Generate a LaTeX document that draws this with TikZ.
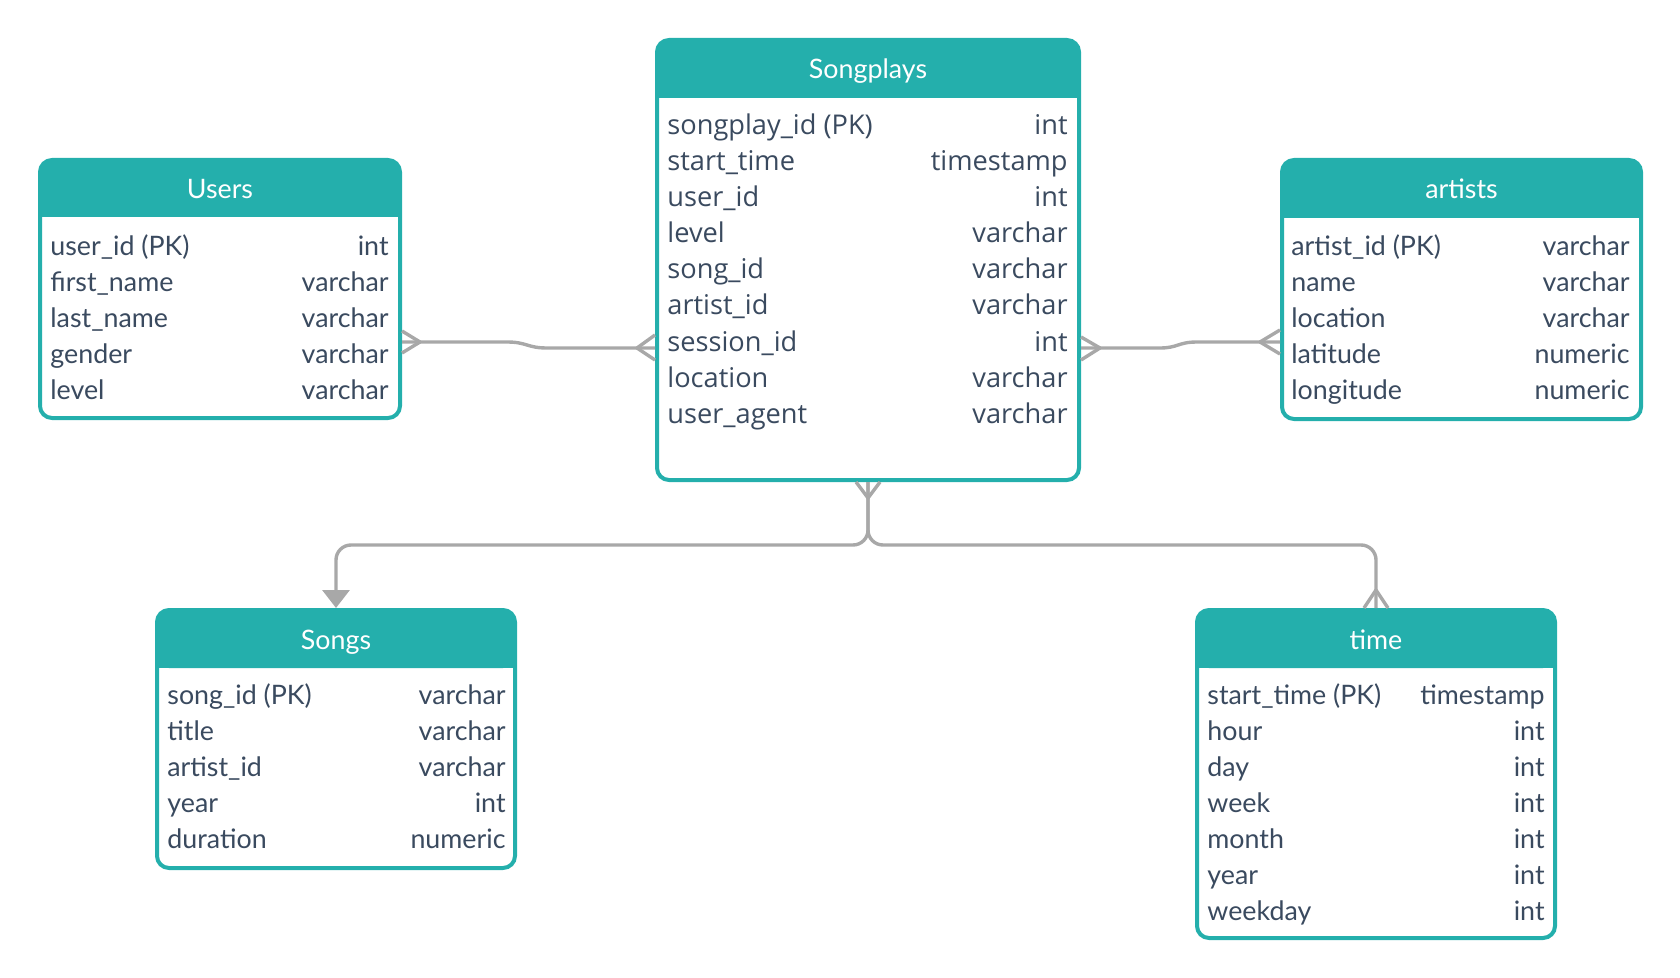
\documentclass[tikz,border=0pt]{standalone}
\usepackage{fontspec}
\setmainfont{Lato}
\newfontfamily\osans{Open Sans}
\usetikzlibrary{arrows.meta}
\definecolor{tealc}{HTML}{24AFAC}
\definecolor{linec}{HTML}{A8A8A8}
\definecolor{txtc}{HTML}{3A4A5F}
\tikzset{
  tblframe/.style={draw=tealc, line width=2pt, fill=white, rounded corners=6pt, inner sep=0pt, outer sep=1pt},
  hdrtxt/.style={text=white, inner sep=0pt, font=\fontsize{13.4}{16}\selectfont},
  rowtxt/.style={text=txtc, inner sep=0pt, font=\fontsize{13.4}{16}\selectfont},
  sprowtxt/.style={text=txtc, inner sep=0pt, font=\osans\fontsize{13.6}{16}\selectfont},
  conn/.style={draw=linec, line width=1.7pt, line join=round},
}
% name, L, T, R, B, H, title
\newcommand\erbox[7]{%
  \pgfmathsetmacro\ebw{(#4-#2-4)*0.5}%
  \pgfmathsetmacro\ebh{(#5-#3-4)*0.5}%
  \node[tblframe, minimum width=\ebw pt, minimum height=\ebh pt] (#1) at ({(#2+#4)/2},{(#3+#5)/2}) {};
  \fill[tealc, rounded corners=6pt] (#2+2,#3+2) rectangle (#4-2,#6);
  \fill[tealc] (#2+2,#6-14) rectangle (#4-2,#6);
  \node[hdrtxt, anchor=base] (#1-title) at ({(#2+#4)/2},#3+41) {#7};
}
% name, xl, xr, y, left, right, style
\newcommand\erow[7]{%
  \node[#7, anchor=base west] (#1l) at (#2,#4) {#5};
  \node[#7, anchor=base east] (#1r) at (#3,#4) {#6};
}
\begin{document}
\begin{tikzpicture}[x=0.5pt,y=-0.5pt]
\useasboundingbox (0,0) rectangle (1680,978);

% ---------- Users
\erbox{users}{38}{158}{402}{420}{217}{Users}
\erow{u1}{50}{389}{256}{user\_id (PK)}{int}{rowtxt}
\erow{u2}{50}{389}{292}{first\_name}{varchar}{rowtxt}
\erow{u3}{50}{389}{328}{last\_name}{varchar}{rowtxt}
\erow{u4}{50}{389}{364}{gender}{varchar}{rowtxt}
\erow{u5}{50}{389}{400}{level}{varchar}{rowtxt}

% ---------- Songplays
\erbox{songplays}{655}{38}{1081}{482}{98}{Songplays}
\erow{s1}{667}{1068}{135}{songplay\_id (PK)}{int}{sprowtxt}
\erow{s2}{667}{1068}{171}{start\_time}{timestamp}{sprowtxt}
\erow{s3}{667}{1068}{207}{user\_id}{int}{sprowtxt}
\erow{s4}{667}{1068}{243}{level}{varchar}{sprowtxt}
\erow{s5}{667}{1068}{279}{song\_id}{varchar}{sprowtxt}
\erow{s6}{667}{1068}{315}{artist\_id}{varchar}{sprowtxt}
\erow{s7}{667}{1068}{351}{session\_id}{int}{sprowtxt}
\erow{s8}{667}{1068}{387}{location}{varchar}{sprowtxt}
\erow{s9}{667}{1068}{423}{user\_agent}{varchar}{sprowtxt}

% ---------- artists
\erbox{artists}{1280}{158}{1643}{421}{218}{artists}
\erow{a1}{1291}{1630}{256}{artist\_id (PK)}{varchar}{rowtxt}
\erow{a2}{1291}{1630}{292}{name}{varchar}{rowtxt}
\erow{a3}{1291}{1630}{328}{location}{varchar}{rowtxt}
\erow{a4}{1291}{1630}{364}{latitude}{numeric}{rowtxt}
\erow{a5}{1291}{1630}{400}{longitude}{numeric}{rowtxt}

% ---------- Songs
\erbox{songs}{155}{608}{517}{870}{668}{Songs}
\erow{g1}{167}{506}{704}{song\_id (PK)}{varchar}{rowtxt}
\erow{g2}{167}{506}{740}{title}{varchar}{rowtxt}
\erow{g3}{167}{506}{776}{artist\_id}{varchar}{rowtxt}
\erow{g4}{167}{506}{812}{year}{int}{rowtxt}
\erow{g5}{167}{506}{848}{duration}{numeric}{rowtxt}

% ---------- time
\erbox{time}{1195}{608}{1557}{940}{668}{time}
\erow{t1}{1207}{1545}{704}{start\_time (PK)}{timestamp}{rowtxt}
\erow{t2}{1207}{1545}{740}{hour}{int}{rowtxt}
\erow{t3}{1207}{1545}{776}{day}{int}{rowtxt}
\erow{t4}{1207}{1545}{812}{week}{int}{rowtxt}
\erow{t5}{1207}{1545}{848}{month}{int}{rowtxt}
\erow{t6}{1207}{1545}{884}{year}{int}{rowtxt}
\erow{t7}{1207}{1545}{920}{weekday}{int}{rowtxt}

% ---------- connectors
% Users -- Songplays
\draw[conn] (users.east |- 0,342) -- (507,342) .. controls (527,342) and (527,348) .. (547,348) -- (songplays.west |- 0,348);
\draw[conn] (users.east |- 0,331) -- (420,342) -- (users.east |- 0,353);
\draw[conn] (songplays.west |- 0,335) -- (637,348) -- (songplays.west |- 0,360);

% Songplays -- artists
\draw[conn] (songplays.east |- 0,348) -- (1160,348) .. controls (1178,348) and (1178,342) .. (1197,342) -- (artists.west |- 0,342);
\draw[conn] (songplays.east |- 0,337) -- (1100,348) -- (songplays.east |- 0,360);
\draw[conn] (artists.west |- 0,330) -- (1260,342) -- (artists.west |- 0,354);

% Songplays -- Songs / time
\draw[conn, rounded corners=7.5pt, -{Triangle[length=9pt,width=13.5pt]}] (songplays.south) -- (868,545) -- (songs.north |- 0,545) -- (songs.north);
\draw[conn, rounded corners=7.5pt] (songplays.south) -- (868,545) -- (time.north |- 0,545) -- (time.north);
\draw[conn] (songplays.south -| 856,0) -- (868,498) -- (songplays.south -| 880,0);
\draw[conn] (time.north -| 1364,0) -- (1376,590) -- (time.north -| 1388,0);
\end{tikzpicture}
\end{document}
